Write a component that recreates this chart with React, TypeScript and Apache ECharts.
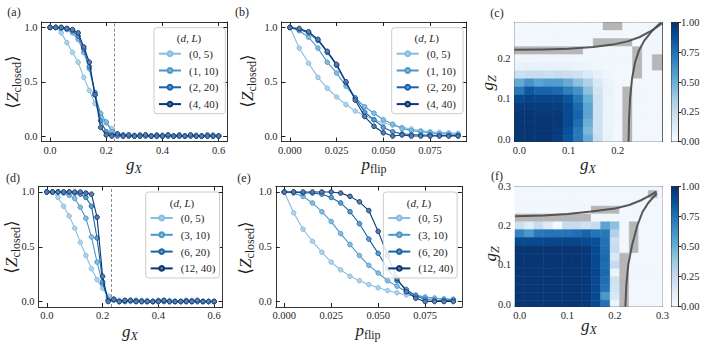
import React, { useEffect, useRef } from 'react';
import * as echarts from 'echarts';

// ---------------- data ----------------
const gXs = [0, 0.02, 0.04, 0.06, 0.08, 0.1, 0.12, 0.14, 0.16, 0.18, 0.2, 0.22, 0.24, 0.26, 0.28, 0.3, 0.32, 0.34, 0.36, 0.38, 0.4, 0.42, 0.44, 0.46, 0.48, 0.5, 0.52, 0.54, 0.56, 0.58, 0.6];
const pFlips = [0, 0.005, 0.01, 0.015, 0.02, 0.025, 0.03, 0.035, 0.04, 0.045, 0.05, 0.055, 0.06, 0.065, 0.07, 0.075, 0.08, 0.085, 0.09];
const criticalGX = 0.232;

const namesTop = ['(0, 5)', '(1, 10)', '(2, 20)', '(4, 40)'];
const namesBottom = ['(0, 5)', '(3, 10)', '(6, 20)', '(12, 40)'];
const seriesColors = ['#86bcdf', '#4a98c9', '#1764ab', '#0a3674'];

// panel (a): <Z_closed> vs g_X
const aZ0_5 = [1.0, 1.0, 0.95, 0.86, 0.77, 0.68, 0.54, 0.42, 0.30, 0.19, 0.12, 0.07, 0.02, 0.01, 0.0, 0.01, 0.0, 0.01, 0.0, 0.0, 0.01, 0.0, 0.0, 0.01, 0.0, 0.0, 0.01, 0.0, 0.0, 0.0, 0.0];
const aZ1_10 = [1.0, 1.0, 0.99, 0.98, 0.95, 0.89, 0.77, 0.62, 0.38, 0.21, 0.13, 0.04, 0.01, 0.0, 0.01, 0.0, 0.0, 0.01, 0.0, 0.0, 0.0, 0.01, 0.0, 0.0, 0.0, 0.01, 0.0, 0.0, 0.0, 0.01, 0.0];
const aZ2_20 = [1.0, 1.0, 1.0, 0.99, 0.97, 0.92, 0.80, 0.64, 0.40, 0.14, 0.04, 0.01, 0.0, 0.01, 0.0, 0.0, 0.01, 0.0, 0.0, 0.01, 0.0, 0.0, 0.0, 0.01, 0.0, 0.0, 0.0, 0.0, 0.01, 0.0, 0.0];
const aZ4_40 = [1.0, 1.0, 1.0, 0.99, 0.98, 0.95, 0.82, 0.68, 0.38, 0.08, 0.01, 0.0, 0.02, 0.0, 0.01, 0.0, 0.0, 0.01, 0.0, 0.0, 0.0, 0.01, 0.0, 0.0, 0.0, 0.01, 0.0, 0.0, 0.0, 0.0, 0.0];

// panel (b): <Z_closed> vs p_flip
const bZ0_5 = [1.0, 0.81, 0.67, 0.54, 0.44, 0.36, 0.29, 0.23, 0.19, 0.15, 0.12, 0.10, 0.08, 0.065, 0.05, 0.04, 0.035, 0.03, 0.025];
const bZ1_10 = [1.0, 0.97, 0.91, 0.81, 0.68, 0.58, 0.46, 0.35, 0.27, 0.21, 0.15, 0.11, 0.07, 0.05, 0.04, 0.03, 0.02, 0.02, 0.015];
const bZ2_20 = [1.0, 0.98, 0.95, 0.88, 0.77, 0.65, 0.49, 0.35, 0.22, 0.15, 0.08, 0.04, 0.02, 0.015, 0.01, 0.01, 0.005, 0.005, 0.005];
const bZ4_40 = [1.0, 0.99, 0.96, 0.89, 0.78, 0.66, 0.50, 0.33, 0.18, 0.09, 0.03, 0.0, 0.01, 0.0, 0.0, 0.0, 0.0, 0.0, 0.0];

// panel (d): <Z_closed> vs g_X
const dZ0_5 = [1.0, 1.0, 0.95, 0.87, 0.78, 0.67, 0.54, 0.42, 0.30, 0.20, 0.12, 0.05, 0.02, 0.01, 0.0, 0.01, 0.0, 0.0, 0.01, 0.0, 0.0, 0.0, 0.01, 0.0, 0.0, 0.0, 0.0, 0.01, 0.0, 0.0, 0.0];
const dZ3_10 = [1.0, 1.0, 1.0, 0.99, 0.97, 0.94, 0.86, 0.76, 0.59, 0.36, 0.16, 0.02, 0.01, 0.0, 0.01, 0.0, 0.0, 0.01, 0.0, 0.0, 0.0, 0.01, 0.0, 0.0, 0.0, 0.0, 0.01, 0.0, 0.0, 0.0, 0.0];
const dZ6_20 = [1.0, 1.0, 1.0, 1.0, 1.0, 0.99, 0.98, 0.95, 0.87, 0.58, 0.18, 0.01, 0.02, 0.0, 0.0, 0.01, 0.01, 0.0, 0.0, 0.0, 0.01, 0.0, 0.0, 0.0, 0.0, 0.01, 0.0, 0.0, 0.0, 0.0, 0.0];
const dZ12_40 = [1.0, 1.0, 1.0, 1.0, 1.0, 1.0, 1.0, 0.99, 0.98, 0.77, 0.23, 0.0, 0.02, 0.0, 0.01, 0.01, 0.0, 0.0, 0.0, 0.0, 0.0, 0.01, 0.0, 0.0, 0.0, 0.0, 0.0, 0.01, 0.0, 0.0, 0.0];

// panel (e): <Z_closed> vs p_flip
const eZ0_5 = [1.0, 0.81, 0.66, 0.55, 0.45, 0.36, 0.29, 0.23, 0.19, 0.155, 0.125, 0.10, 0.08, 0.06, 0.05, 0.04, 0.03, 0.025, 0.02];
const eZ3_10 = [1.0, 0.99, 0.96, 0.90, 0.82, 0.73, 0.62, 0.52, 0.42, 0.33, 0.26, 0.19, 0.14, 0.09, 0.06, 0.04, 0.03, 0.02, 0.02];
const eZ6_20 = [1.0, 1.0, 0.99, 0.99, 0.98, 0.95, 0.90, 0.82, 0.71, 0.57, 0.44, 0.30, 0.19, 0.11, 0.05, 0.02, 0.01, 0.01, 0.01];
const eZ12_40 = [1.0, 1.0, 1.0, 1.0, 1.0, 1.0, 0.99, 0.96, 0.91, 0.83, 0.64, 0.42, 0.21, 0.09, 0.03, 0.0, 0.0, 0.0, 0.0];

// panel (c) heat map: rows listed from top (g_Z = 0.28) to bottom (g_Z = 0); null = masked (grey)
const heatC_gx = [0, 0.02, 0.04, 0.06, 0.08, 0.1, 0.12, 0.14, 0.16, 0.18, 0.2, 0.22, 0.24, 0.26, 0.28];
const heatC_gz = [0, 0.02, 0.04, 0.06, 0.08, 0.1, 0.12, 0.14, 0.16, 0.18, 0.2, 0.22, 0.24, 0.26, 0.28];
const heatC_rows: (number | null)[][] = [
  [0.02, 0.02, 0.03, 0.02, 0.02, 0.02, 0.02, 0.02, 0.02, null, null, 0.02, 0.02, 0.03, 0.04],
  [0.03, 0.03, 0.03, 0.03, 0.03, 0.03, 0.03, 0.03, 0.03, 0.03, 0.03, 0.02, 0.02, 0.03, 0.03],
  [0.03, 0.03, 0.03, 0.03, 0.03, 0.03, 0.03, 0.03, null, null, null, null, 0.0, 0.03, 0.04],
  [null, null, null, null, null, null, null, 0.03, 0.03, 0.03, 0.03, 0.02, null, 0.03, 0.04],
  [0.04, 0.04, 0.04, 0.04, 0.04, 0.04, 0.04, 0.03, 0.03, 0.03, 0.03, 0.03, null, 0.03, null],
  [0.07, 0.08, 0.07, 0.07, 0.07, 0.07, 0.06, 0.05, 0.04, 0.03, 0.03, 0.03, null, 0.03, null],
  [0.22, 0.24, 0.24, 0.22, 0.24, 0.22, 0.20, 0.14, 0.08, 0.04, 0.03, 0.03, null, 0.03, 0.03],
  [0.52, 0.62, 0.55, 0.58, 0.58, 0.52, 0.42, 0.32, 0.14, 0.06, 0.03, 0.03, 0.03, 0.03, 0.03],
  [0.72, 0.85, 0.80, 0.80, 0.78, 0.70, 0.62, 0.42, 0.18, 0.07, 0.03, null, 0.03, 0.03, 0.03],
  [0.90, 0.93, 0.92, 0.92, 0.92, 0.86, 0.72, 0.50, 0.20, 0.06, 0.03, null, 0.03, 0.03, 0.03],
  [0.96, 0.96, 0.96, 0.96, 0.95, 0.90, 0.78, 0.55, 0.20, 0.06, 0.03, null, 0.03, 0.03, 0.03],
  [0.98, 0.98, 0.97, 0.97, 0.97, 0.90, 0.80, 0.55, 0.20, 0.06, 0.03, null, 0.03, 0.03, 0.03],
  [0.98, 0.98, 0.98, 0.98, 0.97, 0.90, 0.76, 0.50, 0.20, 0.06, 0.03, null, 0.03, 0.03, 0.03],
  [0.98, 0.98, 0.98, 0.98, 0.96, 0.88, 0.72, 0.46, 0.20, 0.06, 0.03, null, 0.03, 0.03, 0.03],
  [0.98, 0.98, 0.98, 0.98, 0.95, 0.86, 0.72, 0.52, 0.22, 0.07, 0.03, null, 0.03, 0.03, 0.03],
];

// panel (f) heat map: rows from top (g_Z = 0.30) to bottom (g_Z = 0)
const heatF_gx = [0, 0.02, 0.04, 0.06, 0.08, 0.1, 0.12, 0.14, 0.16, 0.18, 0.2, 0.22, 0.24, 0.26, 0.28, 0.3];
const heatF_gz = [0, 0.02, 0.04, 0.06, 0.08, 0.1, 0.12, 0.14, 0.16, 0.18, 0.2, 0.22, 0.24, 0.26, 0.28, 0.3];
const heatF_rows: (number | null)[][] = [
  [0.03, 0.03, 0.03, 0.03, 0.03, 0.03, 0.03, 0.03, 0.03, 0.03, 0.03, 0.03, 0.03, 0.03, 0.03, 0.03],
  [0.03, 0.03, 0.03, 0.03, 0.03, 0.03, 0.03, 0.03, 0.03, 0.03, 0.03, 0.03, 0.03, 0.03, null, 0.03],
  [0.03, 0.03, 0.03, 0.04, 0.03, 0.03, 0.03, 0.03, 0.03, 0.03, 0.03, 0.03, 0.03, 0.03, 0.03, 0.03],
  [0.03, 0.03, 0.03, 0.03, 0.03, 0.03, 0.03, 0.03, null, null, null, 0.02, 0.03, 0.03, 0.03, 0.03],
  [null, null, null, null, null, null, null, null, 0.03, 0.03, 0.03, 0.03, 0.03, 0.03, 0.03, 0.03],
  [0.22, 0.12, 0.25, 0.13, 0.02, 0.25, 0.25, 0.20, 0.25, 0.55, 0.42, 0.03, null, 0.03, 0.03, 0.03],
  [0.68, 0.60, 0.72, 0.74, 0.74, 0.74, 0.76, 0.80, 0.74, 0.72, 0.32, 0.03, null, 0.03, 0.03, 0.03],
  [0.90, 0.90, 0.90, 0.92, 0.92, 0.92, 0.92, 0.90, 0.88, 0.75, 0.22, 0.03, null, 0.03, 0.03, 0.03],
  [0.98, 0.98, 0.98, 0.98, 0.98, 0.98, 0.98, 0.97, 0.90, 0.76, 0.25, 0.03, null, 0.03, 0.03, 0.03],
  [0.98, 0.98, 0.98, 0.98, 0.98, 0.98, 0.98, 0.97, 0.90, 0.78, 0.15, null, 0.03, 0.03, 0.03, 0.03],
  [0.98, 0.98, 0.98, 0.98, 0.98, 0.98, 0.98, 0.97, 0.90, 0.76, 0.25, null, 0.03, 0.03, 0.03, 0.03],
  [0.98, 0.98, 0.98, 0.98, 0.98, 0.98, 0.98, 0.97, 0.92, 0.78, 0.05, null, 0.03, 0.03, 0.03, 0.03],
  [0.98, 0.98, 0.98, 0.98, 0.98, 0.98, 0.98, 0.97, 0.90, 0.76, 0.20, null, 0.03, 0.03, 0.03, 0.03],
  [0.98, 0.98, 0.98, 0.98, 0.98, 0.98, 0.98, 0.97, 0.90, 0.74, 0.18, null, 0.03, 0.03, 0.03, 0.03],
  [0.98, 0.98, 0.98, 0.98, 0.98, 0.98, 0.98, 0.97, 0.90, 0.60, 0.15, null, 0.03, 0.03, 0.03, 0.03],
  [0.98, 0.98, 0.98, 0.98, 0.98, 0.98, 0.98, 0.97, 0.90, 0.75, 0.05, null, 0.03, 0.03, 0.03, 0.03],
];

// phase-boundary curves (g_X, g_Z)
const curveC_upper = [[-0.01, 0.222], [0.05, 0.223], [0.1, 0.225], [0.15, 0.229], [0.19, 0.235], [0.22, 0.243], [0.245, 0.254], [0.265, 0.267], [0.28, 0.279], [0.29, 0.288]];
const curveC_right = [[0.222, -0.006], [0.223, 0.05], [0.225, 0.1], [0.229, 0.15], [0.235, 0.19], [0.243, 0.22], [0.254, 0.245], [0.267, 0.265], [0.279, 0.28], [0.288, 0.29]];
const curveF_upper = [[-0.01, 0.224], [0.05, 0.226], [0.1, 0.23], [0.15, 0.236], [0.2, 0.244], [0.23, 0.253], [0.255, 0.265], [0.275, 0.278], [0.287, 0.287]];
const curveF_right = [[0.222, -0.006], [0.224, 0.05], [0.228, 0.1], [0.236, 0.15], [0.247, 0.2], [0.258, 0.235], [0.27, 0.258], [0.28, 0.272], [0.288, 0.282]];

// ---------------- styling helpers ----------------
const SERIF = 'Liberation Serif, DejaVu Serif, serif';
const INK = '#1f1f1f';
const MASK = '#b6b6b6';
const BLUES = ['#f7fbff', '#deebf7', '#c6dbef', '#9ecae1', '#6baed6', '#4292c6', '#2171b5', '#08519c', '#08306b'];

function hexToRgb(h: string) {
  return [parseInt(h.slice(1, 3), 16), parseInt(h.slice(3, 5), 16), parseInt(h.slice(5, 7), 16)];
}
function mix(a: string, b: string, t: number) {
  const A = hexToRgb(a), B = hexToRgb(b);
  const c = A.map((v, i) => Math.round(v + (B[i] - v) * t));
  return `rgb(${c[0]},${c[1]},${c[2]})`;
}
function blues(v: number) {
  const t = Math.max(0, Math.min(1, v)) * 8;
  const i = Math.min(7, Math.floor(t));
  return mix(BLUES[i], BLUES[i + 1], t - i);
}

function buildOption() {
  const grids: any[] = [];
  const xAxes: any[] = [];
  const yAxes: any[] = [];
  const series: any[] = [];
  const legends: any[] = [];
  const graphics: any[] = [];

  const addGrid = (left: number, top: number, width: number, height: number) => {
    grids.push({ left, top, width, height, show: false, containLabel: false, outerBoundsMode: 'none' });
    return grids.length - 1;
  };

  const frameLine = { show: true, onZero: false, lineStyle: { color: INK, width: 0.9 } };

  const addAxes = (dim: 'x' | 'y', gridIndex: number, min: number, max: number, step: number, digits: number, margin: number, showMax = false) => {
    const arr = dim === 'x' ? xAxes : yAxes;
    const idx = arr.length;
    const common = {
      type: 'value', gridIndex, min, max, minInterval: step, maxInterval: step, splitNumber: 5,
      axisLine: frameLine, splitLine: { show: false }, silent: true,
      axisTick: { show: true, inside: true, length: 4, lineStyle: { color: INK, width: 1 } },
    };
    arr.push({
      ...common, position: dim === 'x' ? 'bottom' : 'left',
      axisLabel: { show: true, margin, formatter: (v: number) => v.toFixed(digits), fontFamily: SERIF, fontSize: 10.5, color: INK, showMinLabel: false, showMaxLabel: showMax },
    });
    arr.push({ ...common, position: dim === 'x' ? 'top' : 'right', axisLabel: { show: false } });
    return idx;
  };

  const rich = {
    i: { fontFamily: SERIF, fontStyle: 'italic', fontSize: 17, fill: INK, lineHeight: 19, verticalAlign: 'top' },
    r: { fontFamily: SERIF, fontSize: 17, fill: INK, lineHeight: 19, verticalAlign: 'top' },
    si: { fontFamily: SERIF, fontStyle: 'italic', fontSize: 12, fill: INK, lineHeight: 13, verticalAlign: 'bottom', padding: [9, 0, 0, 0] },
    sr: { fontFamily: SERIF, fontSize: 12, fill: INK, lineHeight: 13, verticalAlign: 'bottom', padding: [9, 0, 0, 0] },
    li: { fontFamily: SERIF, fontStyle: 'italic', fontSize: 11, fill: INK },
    lr: { fontFamily: SERIF, fontSize: 11, fill: INK },
    pl: { fontFamily: SERIF, fontSize: 12, fill: INK },
  };
  const addText = (x: number, y: number, text: string, rotate = false) => {
    graphics.push({
      type: 'text', x, y, rotation: rotate ? Math.PI / 2 : 0, silent: true, z: 100,
      style: { text, rich, align: 'center', verticalAlign: 'middle', fill: INK, fontFamily: SERIF, fontSize: 12 },
    });
  };

  const addLinePanel = (
    rect: [number, number, number, number], xMin: number, xMax: number, xStep: number, xDigits: number,
    xs: number[], ys: number[][], names: string[], critical: number | null,
    legendPos: [number, number], legendPadRight: number,
  ) => {
    const g = addGrid(...rect);
    const xi = addAxes('x', g, xMin, xMax, xStep, xDigits, 3);
    const yi = addAxes('y', g, -0.05, 1.05, 0.5, 1, 4);
    ys.forEach((vals, k) => {
      const color = seriesColors[k];
      const s: any = {
        type: 'line', name: names[k], xAxisIndex: xi, yAxisIndex: yi,
        data: xs.map((x, i) => [x, vals[i]]),
        symbol: 'circle', symbolSize: 4.6, showSymbol: true,
        lineStyle: { color, width: 1.1 },
        itemStyle: { color: mix(color, '#ffffff', 0.35), borderColor: color, borderWidth: 0.9 },
        emphasis: { disabled: true }, z: 2 + k,
      };
      if (k === 0 && critical !== null) {
        s.markLine = {
          silent: true, symbol: ['none', 'none'], label: { show: false },
          lineStyle: { type: [3, 2], color: '#8a8a8a', width: 1 },
          data: [{ xAxis: critical }],
        };
      }
      series.push(s);
    });
    legends.push({
      show: true, orient: 'vertical', left: legendPos[0], top: legendPos[1], data: names,
      itemWidth: 22, itemHeight: 6, itemGap: 4.8, padding: [20, legendPadRight, 3.6, 4],
      borderColor: '#cccccc', borderWidth: 1, borderRadius: 3, backgroundColor: 'rgba(255,255,255,0.85)',
      selectedMode: false, z: 20,
      textStyle: { fontFamily: SERIF, fontSize: 11, color: INK, lineHeight: 12, padding: [0, 0, 0, 3] },
    });
  };

  const addHeatPanel = (
    rect: [number, number, number, number], xMax: number, yMin: number, yMax: number,
    cx: number[], cy: number[], rows: (number | null)[][], curves: number[][][], arrows: boolean,
    cbarRect: [number, number, number, number], showMax: boolean,
  ) => {
    const g = addGrid(...rect);
    const xi = addAxes('x', g, -0.01, xMax, 0.1, 1, 3, showMax);
    const yi = addAxes('y', g, yMin, yMax, 0.1, 1, 4, showMax);
    const data: number[][] = [];
    rows.forEach((row, r) => row.forEach((v, c) => {
      data.push([cx[c], cy[rows.length - 1 - r], v === null ? 0 : v, v === null ? 1 : 0]);
    }));
    const half = 0.01;
    series.push({
      type: 'custom', xAxisIndex: xi, yAxisIndex: yi, data, z: 1, silent: true,
      renderItem: (params: any, api: any) => {
        const x = api.value(0), y = api.value(1), v = api.value(2), bad = api.value(3);
        const a = api.coord([x - half, y + half]);
        const b = api.coord([x + half, y - half]);
        const cs = params.coordSys;
        const x0 = Math.max(a[0], cs.x), x1 = Math.min(b[0], cs.x + cs.width);
        const y0 = Math.max(a[1], cs.y), y1 = Math.min(b[1], cs.y + cs.height);
        if (x1 <= x0 || y1 <= y0) return null;
        const fill = bad ? MASK : blues(v);
        return { type: 'rect', shape: { x: x0, y: y0, width: x1 - x0, height: y1 - y0 }, style: { fill, stroke: fill, lineWidth: 0.5 } };
      },
    });
    series.push({
      type: 'lines', coordinateSystem: 'cartesian2d', xAxisIndex: xi, yAxisIndex: yi, polyline: true,
      symbol: arrows ? ['none', 'arrow'] : ['none', 'none'], symbolSize: 8, silent: true, z: 5,
      lineStyle: { color: '#4f4f4f', width: 2, opacity: 0.95 },
      data: curves.map((c) => ({ coords: c })),
    });
    // colour bar
    const cg = addGrid(...cbarRect);
    const cxi = xAxes.length;
    xAxes.push({ type: 'value', gridIndex: cg, min: 0, max: 1, position: 'bottom', axisLine: frameLine, axisTick: { show: false }, axisLabel: { show: false }, splitLine: { show: false } });
    xAxes.push({ type: 'value', gridIndex: cg, min: 0, max: 1, position: 'top', axisLine: frameLine, axisTick: { show: false }, axisLabel: { show: false }, splitLine: { show: false } });
    const cyi = yAxes.length;
    yAxes.push({
      type: 'value', gridIndex: cg, min: 0, max: 1, interval: 0.25, position: 'right', silent: true,
      axisLine: frameLine, splitLine: { show: false },
      axisTick: { show: true, inside: false, length: 3, lineStyle: { color: INK, width: 1 } },
      axisLabel: { margin: 3, formatter: (v: number) => v.toFixed(2), fontFamily: SERIF, fontSize: 10.5, color: INK },
    });
    yAxes.push({ type: 'value', gridIndex: cg, min: 0, max: 1, position: 'left', axisLine: frameLine, axisTick: { show: false }, axisLabel: { show: false }, splitLine: { show: false } });
    series.push({
      type: 'custom', xAxisIndex: cxi, yAxisIndex: cyi, data: [[0.5, 0.5]], silent: true, z: 1,
      renderItem: (params: any) => {
        const cs = params.coordSys;
        const stops = BLUES.map((c, i) => ({ offset: i / 8, color: c })).reverse().map((s, i) => ({ offset: i / 8, color: s.color }));
        return {
          type: 'rect', shape: { x: cs.x, y: cs.y, width: cs.width, height: cs.height },
          style: { fill: new echarts.graphic.LinearGradient(0, 0, 0, 1, stops) },
        };
      },
    });
  };

  // (a)
  addLinePanel([41.6, 22, 185.5, 119.5], -0.03, 0.63, 0.2, 1, gXs, [aZ0_5, aZ1_10, aZ2_20, aZ4_40], namesTop, criticalGX, [154, 27.7], 7);
  // (b)
  addLinePanel([281.5, 22, 185, 119.5], -0.0045, 0.0945, 0.025, 3, pFlips, [bZ0_5, bZ1_10, bZ2_20, bZ4_40], namesTop, null, [391.7, 27.7], 7);
  // (c)
  addHeatPanel([514.5, 22.5, 147.5, 119], 0.29, -0.006, 0.29, heatC_gx, heatC_gz, heatC_rows, [curveC_upper, curveC_right], false, [671.5, 22.5, 6.5, 119], false);
  // (d)
  addLinePanel([38.5, 186.5, 184, 120.5], -0.03, 0.63, 0.2, 1, gXs, [dZ0_5, dZ3_10, dZ6_20, dZ12_40], namesBottom, criticalGX, [145.7, 192], 4);
  // (e)
  addLinePanel([275.8, 186.5, 186, 120.5], -0.0045, 0.0945, 0.025, 3, pFlips, [eZ0_5, eZ3_10, eZ6_20, eZ12_40], namesBottom, null, [383.3, 192], 4);
  // (f)
  addHeatPanel([515, 186.5, 147.5, 120], 0.3, -0.006, 0.3, heatF_gx, heatF_gz, heatF_rows, [curveF_upper, curveF_right], true, [671.5, 186.5, 6.5, 120], true);

  // panel letters
  addText(14, 12, '{pl|(a)}');
  addText(242, 12, '{pl|(b)}');
  addText(497, 13, '{pl|(c)}');
  addText(13, 178, '{pl|(d)}');
  addText(244, 178, '{pl|(e)}');
  addText(497, 176, '{pl|(f)}');

  // axis titles
  const zLabel = '{r|⟨}{i|Z}{sr|closed}{r|⟩}';
  addText(134, 165, '{i|g}{si|X}');
  addText(13, 82, zLabel, true);
  addText(374, 165, '{i|p}{sr|flip}');
  addText(248, 81, zLabel, true);
  addText(588, 165, '{i|g}{si|X}');
  addText(488.5, 83, '{i|g}{si|Z}', true);
  addText(130, 332, '{i|g}{si|X}');
  addText(12.5, 247, zLabel, true);
  addText(368, 331, '{i|p}{sr|flip}');
  addText(246, 248, zLabel, true);
  addText(589, 326, '{i|g}{si|X}');
  addText(491, 254, '{i|g}{si|Z}', true);

  // legend titles
  const legTitle = '{lr|(}{li|d}{lr|, }{li|L}{lr|)}';
  addText(189, 38, legTitle);
  addText(426.7, 38, legTitle);
  addText(182, 203, legTitle);
  addText(419, 202.5, legTitle);

  return {
    animation: false,
    backgroundColor: '#ffffff',
    grid: grids,
    xAxis: xAxes,
    yAxis: yAxes,
    series,
    legend: legends,
    graphic: { elements: graphics },
  };
}

export default function App() {
  const ref = useRef<HTMLDivElement>(null);
  useEffect(() => {
    document.body.style.margin = '0';
    if (!ref.current) return;
    const chart = echarts.init(ref.current, null, { renderer: 'svg' });
    chart.setOption(buildOption() as any);
    return () => chart.dispose();
  }, []);
  return <div ref={ref} style={{ width: 706, height: 342 }} />;
}
